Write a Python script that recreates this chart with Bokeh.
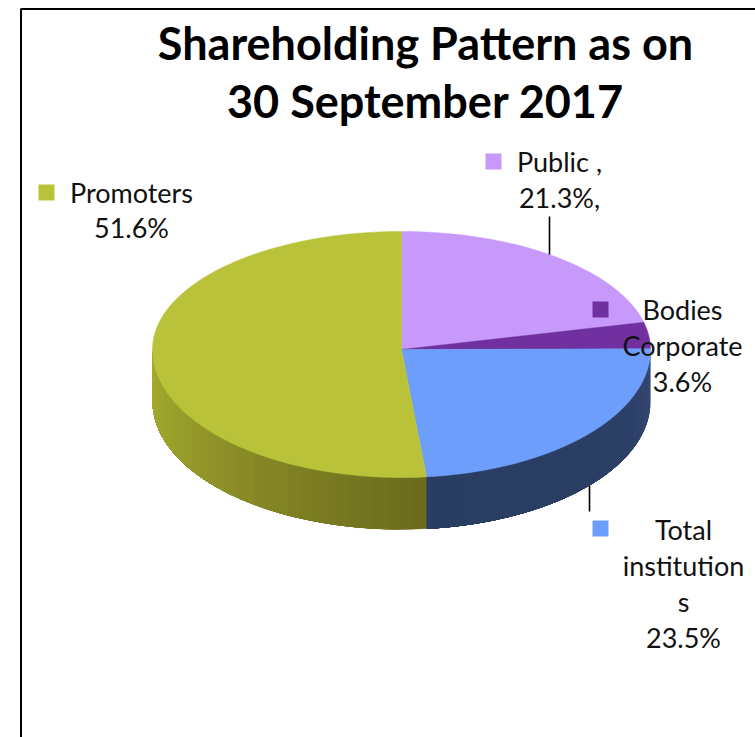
import math
from bokeh.plotting import figure
from bokeh.models import Range1d
from bokeh.core.properties import value
from bokeh.embed import file_html
from bokeh.resources import INLINE

# ---- data ----
categories = ["Public", "Bodies Corporate", "Total institutions", "Promoters"]
shares = [21.3, 3.6, 23.5, 51.6]
colors = ["#C799FA", "#7030A0", "#6E9EFB", "#B9C239"]

title_lines = ["Shareholding Pattern as on", "30 September 2017"]
label_lines = [
    ["Public ,", "21.3%,"],
    ["Bodies", "Corporate", "3.6%"],
    ["Total", "institution", "s", "23.5%"],
    ["Promoters", "51.6%"],
]

# ---- layout (page pixels) ----
W, H = 755, 737
CX, CY, RX, RY_TOP, RY_BOTTOM, DEPTH = 401, 349, 249, 118, 128, 52
title_x, title_base = 425, [42, 100]
label_x = [559, 682, 683, 131]
label_base = [[161, 197], [309, 345, 381], [529, 565, 601, 637], [192, 227]]
swatch_x = [493, 600, 600, 46]
swatch_y = [161, 309, 528, 192]
leaders = [(549, 216, 549, 254), (589, 485, 589, 511)]

p = figure(width=W, height=H, output_backend="svg", toolbar_location=None,
           x_range=Range1d(0, W), y_range=Range1d(H, 0),
           min_border=0, min_border_left=0, min_border_right=0,
           min_border_top=0, min_border_bottom=0, outline_line_color=None)
p.axis.visible = False
p.grid.visible = False
p.xaxis.visible = False
p.yaxis.visible = False
p.background_fill_color = "white"
p.border_fill_color = "white"


def rim(deg):
    t = math.radians(deg)
    c = math.cos(t)
    return CX + RX * math.sin(t), CY - (RY_TOP if c >= 0 else RY_BOTTOM) * c


def mix(stops, f):
    for (a, ca), (b, cb) in zip(stops, stops[1:]):
        if f <= b:
            u = (f - a) / (b - a) if b > a else 0
            rgb = [round(x + (y - x) * u) for x, y in zip(ca, cb)]
            return "#%02X%02X%02X" % tuple(rgb)
    return "#%02X%02X%02X" % tuple(stops[-1][1])


# cumulative angles, clockwise from 12 o'clock
edges = [0.0]
for s in shares:
    edges.append(edges[-1] + s / sum(shares) * 360)

olive = [(0.0, (0x6A, 0x6A, 0x1C)), (0.35, (0x80, 0x82, 0x24)),
         (0.7, (0x97, 0x9C, 0x2A)), (1.0, (0xA5, 0xAC, 0x2E))]
navy = [(0.0, (0x35, 0x49, 0x73)), (0.3, (0x2C, 0x40, 0x67)), (1.0, (0x29, 0x3D, 0x62))]


# side wall: each band overlaps the next, so no seams show
def wall(a, b, stops):
    n = max(1, round((b - a) / 3))
    for k in range(n):
        d1 = a + (b - a) * k / n
        pts = [rim(d1 + (b - d1) * j / 40) for j in range(41)]
        c = mix(stops, (k + 0.5) / n)
        xs = [q[0] for q in pts] + [q[0] for q in reversed(pts)]
        ys = [q[1] for q in pts] + [q[1] + DEPTH for q in reversed(pts)]
        p.patch(xs, ys, fill_color=c, line_color=None)


wall(90.0, edges[3], navy)
wall(edges[3], 270.0, olive)

# top face
for i, c in enumerate(colors):
    a, b = edges[i], edges[i + 1]
    n = max(2, int(b - a) * 2)
    pts = [rim(a + (b - a) * k / n) for k in range(n + 1)]
    p.patch([CX] + [q[0] for q in pts], [CY] + [q[1] for q in pts],
            fill_color=c, line_color=c, line_width=0.5)

# frame: top and left rules only
p.line([20.5, 20.5, W], [H, 8.5, 8.5], line_color="black", line_width=2)

# leader lines
p.segment([l[0] for l in leaders], [l[1] for l in leaders],
          [l[2] for l in leaders], [l[3] for l in leaders],
          line_color="black", line_width=1.6)

# legend swatches
p.scatter(swatch_x, swatch_y, marker="square", size=16, fill_color=colors, line_color=None)

# labels
lx, ly, lt = [], [], []
for x, bases, lines in zip(label_x, label_base, label_lines):
    for b, t in zip(bases, lines):
        lx.append(x); ly.append(b); lt.append(t)
p.text(lx, ly, text=lt, text_font=value("Lato"), text_font_size="27px",
       text_align="center", text_baseline="alphabetic", text_color="#111111")

# title
p.text([title_x] * len(title_lines), title_base, text=title_lines,
       text_font=value("Lato"), text_font_style="bold", text_font_size="45px",
       text_align="center", text_baseline="alphabetic", text_color="black")

open("out.html", "w").write(file_html(p, INLINE))
